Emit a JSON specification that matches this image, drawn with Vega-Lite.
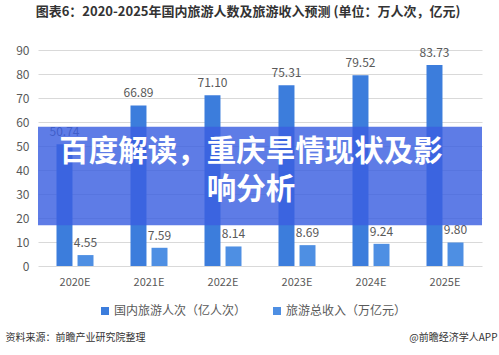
{
  "$schema": "https://vega.github.io/schema/vega-lite/v6.json",
  "width": 444,
  "height": 216,
  "autosize": "none",
  "padding": {"left": 38, "top": 50, "right": 17, "bottom": 89},
  "background": "white",
  "config": {
    "font": "Noto Sans CJK SC",
    "view": {"stroke": null}
  },
  "title": {
    "text": "图表6：2020-2025年国内旅游人数及旅游收入预测 (单位：万人次，亿元)",
    "fontSize": 13,
    "fontWeight": "bold",
    "color": "#333333",
    "anchor": "middle",
    "dx": -12,
    "offset": 25
  },
  "encoding": {
    "y": {
      "field": "value",
      "type": "quantitative",
      "scale": {"domain": [0, 90], "nice": false},
      "axis": {
        "values": [0, 10, 20, 30, 40, 50, 60, 70, 80, 90],
        "labelOverlap": false,
        "title": "@前瞻经济学人APP",
        "titleAngle": 0,
        "titleFontSize": 10,
        "titleFontWeight": "normal",
        "titleColor": "#333333",
        "titleAlign": "right",
        "titleBaseline": "middle",
        "titleX": 459,
        "titleY": 287,
        "labelFontSize": 12,
        "labelColor": "#595959",
        "labelPadding": 9,
        "ticks": false,
        "domain": false,
        "gridColor": "#d9d9d9",
        "gridWidth": 1
      }
    }
  },
  "layer": [
    {
      "data": {
        "values": [
          {"year": "2020E", "series": "国内旅游人次（亿人次）", "value": 50.74},
          {"year": "2020E", "series": "旅游总收入（万亿元）", "value": 4.55},
          {"year": "2021E", "series": "国内旅游人次（亿人次）", "value": 66.89},
          {"year": "2021E", "series": "旅游总收入（万亿元）", "value": 7.59},
          {"year": "2022E", "series": "国内旅游人次（亿人次）", "value": 71.10},
          {"year": "2022E", "series": "旅游总收入（万亿元）", "value": 8.14},
          {"year": "2023E", "series": "国内旅游人次（亿人次）", "value": 75.31},
          {"year": "2023E", "series": "旅游总收入（万亿元）", "value": 8.69},
          {"year": "2024E", "series": "国内旅游人次（亿人次）", "value": 79.52},
          {"year": "2024E", "series": "旅游总收入（万亿元）", "value": 9.24},
          {"year": "2025E", "series": "国内旅游人次（亿人次）", "value": 83.73},
          {"year": "2025E", "series": "旅游总收入（万亿元）", "value": 9.80}
        ]
      },
      "encoding": {
        "x": {
          "field": "year",
          "type": "nominal",
          "sort": null,
          "scale": {"paddingInner": 0.5, "paddingOuter": 0.25},
          "axis": {
            "title": "资料来源：前瞻产业研究院整理",
            "titleFontSize": 10,
            "titleFontWeight": "normal",
            "titleColor": "#333333",
            "titleAnchor": "start",
            "titleAlign": "left",
            "titleBaseline": "middle",
            "titleX": -33,
            "titleY": 71,
            "labelAngle": 0,
            "labelFontSize": 11,
            "labelColor": "#595959",
            "labelPadding": 10,
            "ticks": false,
            "domain": false,
            "grid": false
          }
        },
        "xOffset": {
          "field": "series",
          "type": "nominal",
          "sort": ["国内旅游人次（亿人次）", "旅游总收入（万亿元）"],
          "scale": {"paddingInner": 0.24, "paddingOuter": 0}
        }
      },
      "layer": [
        {
          "mark": {"type": "bar"},
          "encoding": {
            "color": {
              "field": "series",
              "type": "nominal",
              "scale": {
                "domain": ["国内旅游人次（亿人次）", "旅游总收入（万亿元）"],
                "range": ["#3c7ddc", "#4e8fe3"]
              },
              "legend": {
                "title": null,
                "orient": "none",
                "direction": "horizontal",
                "legendX": 61,
                "legendY": 255,
                "symbolType": "square",
                "symbolSize": 64,
                "symbolStrokeWidth": 0,
                "labelFontSize": 12,
                "labelColor": "#595959",
                "labelOffset": 3,
                "columnPadding": 24
              }
            }
          }
        },
        {
          "mark": {"type": "text", "fontSize": 12, "color": "#595959", "dy": -12, "baseline": "middle"},
          "encoding": {
            "text": {"field": "value", "type": "quantitative", "format": ".2f"}
          }
        }
      ]
    },
    {
      "data": {"values": [{"value": 17, "value2": 58}]},
      "mark": {"type": "rect", "color": "#3a5fe0", "opacity": 0.82},
      "encoding": {
        "y2": {"field": "value2"}
      }
    },
    {
      "data": {
        "values": [
          {"line": "百度解读，重庆旱情现状及影", "value": 47.5},
          {"line": "响分析", "value": 31.7}
        ]
      },
      "mark": {"type": "text", "fontSize": 29.5, "fontWeight": "bold", "color": "white", "align": "center", "baseline": "middle", "dx": -9},
      "encoding": {
        "text": {"field": "line", "type": "nominal"}
      }
    }
  ]
}
